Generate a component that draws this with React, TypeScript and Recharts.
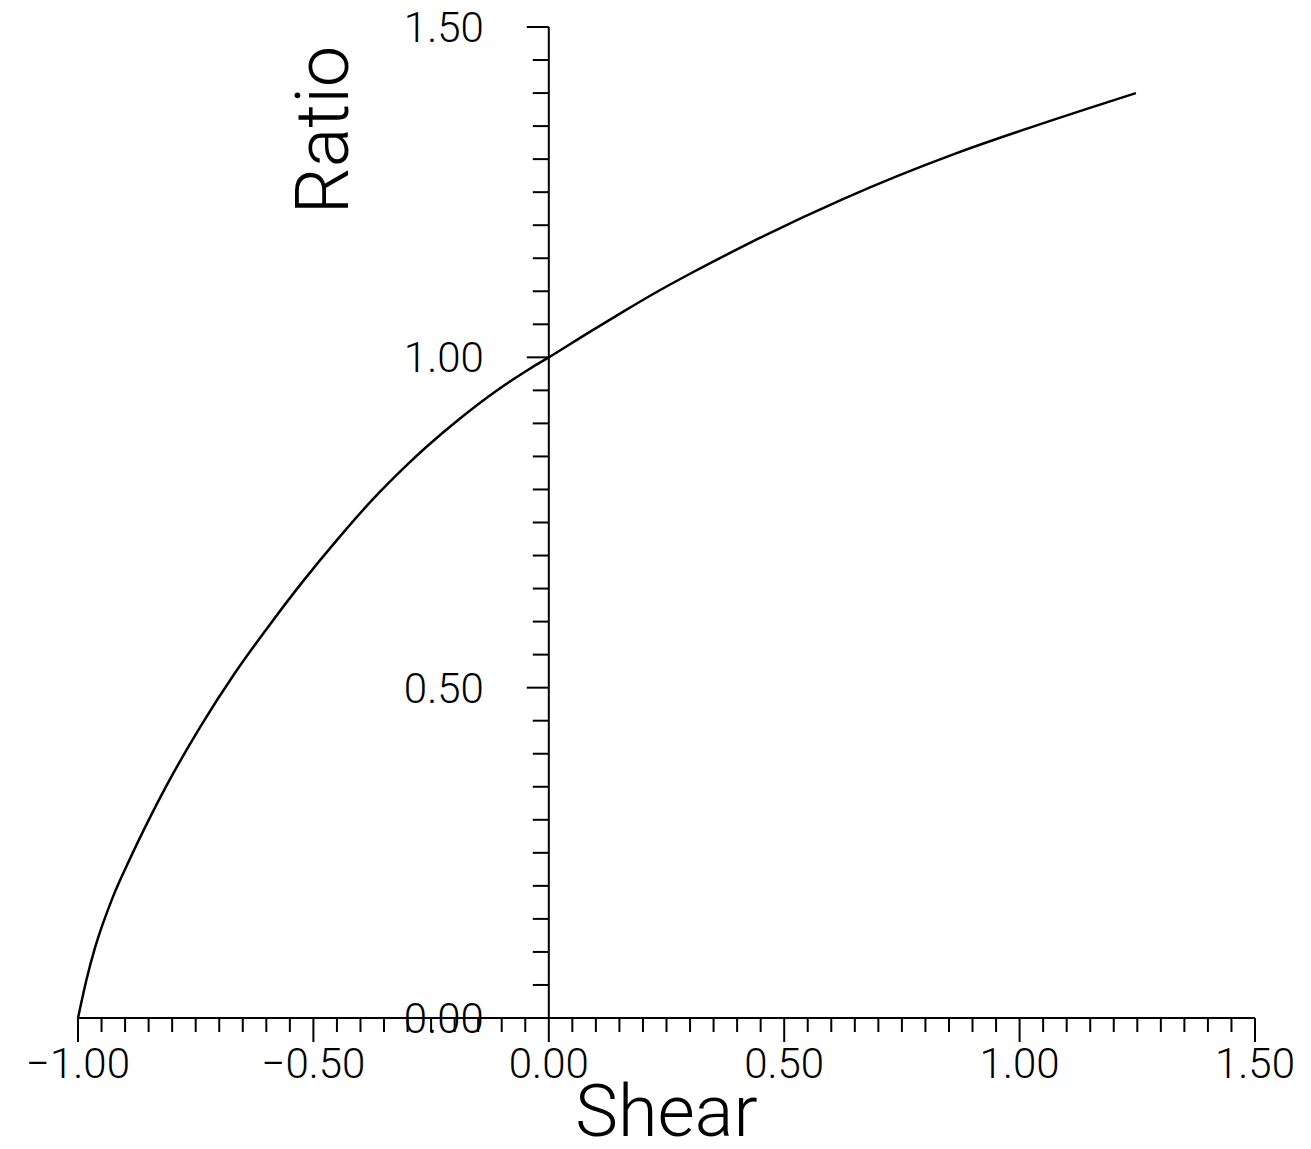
import { ComposedChart, Line, XAxis, YAxis, Scatter, ReferenceLine } from 'recharts';

// curve (shear, ratio)
const shear = [
  -1.0, -0.982, -0.964, -0.926, -0.889, -0.851, -0.814, -0.74, -0.666, -0.593, -0.521, -0.447,
  -0.374, -0.3, -0.259, -0.186, -0.114, -0.042, 0.0, 0.088, 0.16, 0.232, 0.304, 0.407, 0.446,
  0.626, 0.862, 1.019, 1.247,
];
const ratio = [
  0.0, 0.058, 0.106, 0.183, 0.242, 0.298, 0.349, 0.441, 0.523, 0.595, 0.662, 0.726,
  0.785, 0.838, 0.865, 0.909, 0.948, 0.982, 1.0, 1.039, 1.07, 1.1, 1.128, 1.166, 1.18,
  1.24, 1.308, 1.347, 1.4,
];

const xMajorTicks = [-1, -0.5, 0, 0.5, 1, 1.5];
const xTickLabels = ['\u22121.00', '\u22120.50', '0.00', '0.50', '1.00', '1.50'];
const yMajorTicks = [0, 0.5, 1, 1.5];
const yTickLabels = ['0.00', '0.50', '1.00', '1.50'];

// minor ticks every 0.05
const xTicks = Array.from({ length: 51 }, (_, i) => Math.round((-1 + i * 0.05) * 100) / 100);
const yTicks = Array.from({ length: 31 }, (_, i) => Math.round(i * 0.05 * 100) / 100);

const curve = shear.map((x, i) => ({ x, y: ratio[i] }));
const yTickPoints = yTicks.map((y) => ({ x: 0, y }));

const FONT = 'Roboto, "Liberation Sans", sans-serif';

const majorIndex = (list: number[], v: number) => list.findIndex((m) => Math.abs(m - v) < 1e-6);

const XTick = (props: any) => {
  const { x, y, payload } = props;
  const idx = majorIndex(xMajorTicks, payload.value);
  const major = idx >= 0;
  return (
    <g>
      <line x1={x} y1={y} x2={x} y2={y + (major ? 24 : 14)} stroke="#000" strokeWidth={2} />
      {major && (
        <text x={x} y={y + 60} textAnchor="middle" fontSize={42} fontWeight={300} fill="#000">
          {xTickLabels[idx]}
        </text>
      )}
    </g>
  );
};

const YTick = (props: any) => {
  const { cx, cy, payload } = props;
  const idx = majorIndex(yMajorTicks, payload.y);
  const major = idx >= 0;
  return (
    <g>
      <line x1={cx - (major ? 22 : 16)} y1={cy} x2={cx} y2={cy} stroke="#000" strokeWidth={2} />
      {major && (
        <text x={cx - 65} y={cy} dy="0.36em" textAnchor="end" fontSize={42} fontWeight={300} fill="#000">
          {yTickLabels[idx]}
        </text>
      )}
    </g>
  );
};

const RatioLabel = (props: any) => {
  const vb = props.viewBox || { x: 0, y: 0 };
  const tx = vb.x - 201;
  const ty = vb.y + 103;
  return (
    <text
      x={tx}
      y={ty}
      transform={`rotate(-90, ${tx}, ${ty})`}
      textAnchor="middle"
      fontSize={74}
      fontWeight={300}
      fill="#000"
    >
      Ratio
    </text>
  );
};

export default function App() {
  return (
    <div style={{ fontFamily: FONT, width: 1295, height: 1141 }}>
      <ComposedChart width={1295} height={1141} margin={{ top: 19, right: 48, bottom: 0, left: 70 }}>
        <XAxis
          type="number"
          dataKey="x"
          domain={[-1, 1.5]}
          ticks={xTicks}
          interval={0}
          tick={<XTick />}
          tickSize={0}
          tickMargin={0}
          tickLine={false}
          axisLine={{ stroke: '#000', strokeWidth: 2 }}
          height={131}
          label={{ value: 'Shear', position: 'insideBottom', offset: 13, fontSize: 72, fontWeight: 300, fill: '#000' }}
        />
        <YAxis type="number" dataKey="y" domain={[0, 1.5]} hide />
        <ReferenceLine x={0} stroke="#000" strokeWidth={2} label={<RatioLabel />} />
        <Scatter data={yTickPoints} shape={<YTick />} isAnimationActive={false} />
        <Line
          data={curve}
          dataKey="y"
          type="monotone"
          stroke="#000"
          strokeWidth={2.5}
          dot={false}
          isAnimationActive={false}
        />
      </ComposedChart>
    </div>
  );
}
